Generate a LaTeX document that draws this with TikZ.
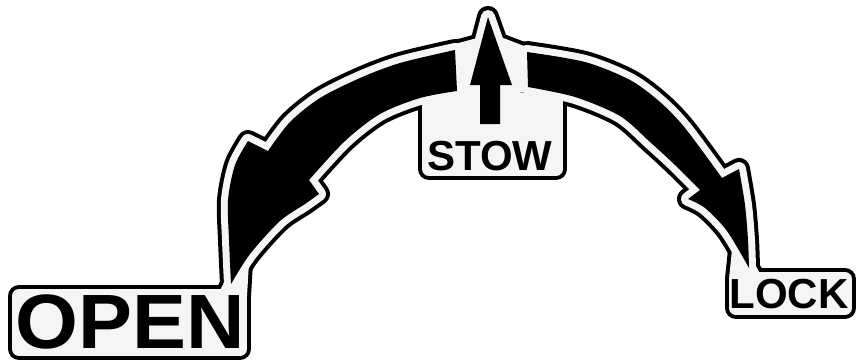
\documentclass[tikz,border=0pt]{standalone}
\usepackage{fontspec}
\setmainfont{Liberation Sans}
\usepackage{graphicx}
\definecolor{decalbg}{gray}{0.96}
\newcommand\LArrowShape[1]{%
  \path[#1] plot[smooth] coordinates {(455,50) (400,63) (360,78) (320,98) (290,122) (268,151)}
    -- (248,141)
    -- plot[smooth] coordinates {(248,141) (235,165) (228,200) (229,240) (231,284)}
    -- plot[smooth] coordinates {(231,284) (250,254) (280,221) (305,204) (319,194)}
    -- (309,180)
    -- plot[smooth] coordinates {(309,180) (345,141) (380,114) (420,98) (457,91)}
    -- cycle;}
\newcommand\RArrowShape[1]{%
  \path[#1] plot[smooth] coordinates {(527,52) (585,62) (630,80) (660,102) (685,128) (722,178)}
    -- (739,169)
    -- plot[smooth] coordinates {(739,169) (745,205) (748,240) (749,268)}
    -- plot[smooth] coordinates {(749,268) (727,231) (705,208) (688,199)}
    -- (700,190)
    -- plot[smooth] coordinates {(700,190) (675,165) (650,142) (620,116) (575,97) (528,87)}
    -- cycle;}
\newcommand\UArrowShape[1]{%
  \path[#1] (488,17) -- (512,85) -- (500,85) -- (500,124) -- (480,124) -- (480,85) -- (470,85) -- cycle;}
\newcommand\PanelShapes[1]{%
  \path[#1] (452,52) -- (478,45) -- (502,45) -- (528,55) -- (528,85) -- (452,92) -- cycle;
  \path[#1] (429,100) rectangle (556,169);
  \path[#1] (19,296) rectangle (240,349);
  \path[#1] (736,279) rectangle (845,308);
  \path[#1] (231,284) -- (242,262) -- (240,296) -- (225,296) -- cycle;
  \path[#1] (749,268) -- (755,279) -- (736,279) -- (739,250) -- cycle;}
\newcommand\AllShapes[1]{\LArrowShape{#1}\RArrowShape{#1}\UArrowShape{#1}\PanelShapes{#1}}
\tikzset{
  halo/.style={draw=black, line width=22pt, line join=round},
  inner/.style={draw=decalbg, fill=decalbg, line width=14pt, line join=round},
  ink/.style={fill=black},
  label/.style={inner sep=0pt, anchor=base, font=\bfseries}
}
\begin{document}
\begin{tikzpicture}[x=1pt,y=-1pt]
\useasboundingbox[fill=white] (0,0) rectangle (856,362);
\AllShapes{halo}
\AllShapes{inner}
\LArrowShape{ink}
\RArrowShape{ink}
\UArrowShape{ink}
\node[label] (open) at (130,348) {\fontsize{77}{77}\selectfont\scalebox{1.05}[1]{OPEN}};
\node[label] (stow) at (490,170) {\fontsize{42}{42}\selectfont STOW};
\node[label] (lock) at (789,308) {\fontsize{42}{42}\selectfont LOCK};
\end{tikzpicture}
\end{document}
